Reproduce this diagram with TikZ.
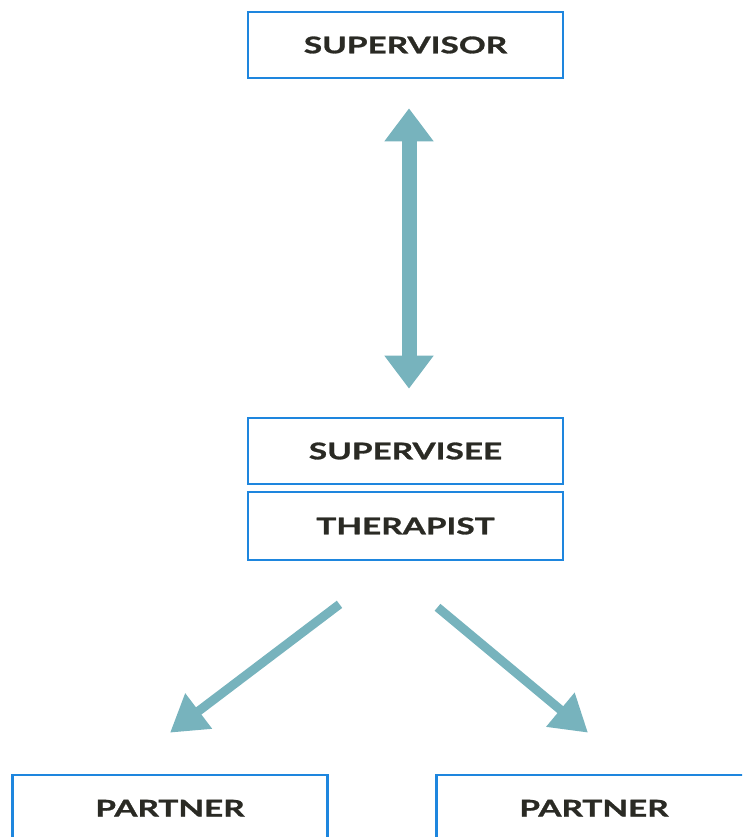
\documentclass[tikz,border=0pt]{standalone}
\usepackage{fontspec}
\setmainfont{Lato}[UprightFont=* Bold, FakeStretch=1.45, FakeBold=1.2]
\usetikzlibrary{arrows.meta}
\definecolor{boxblue}{HTML}{1E86DE}
\definecolor{linkteal}{HTML}{77B3BD}
\definecolor{inkdark}{HTML}{2A2A24}
\tikzset{
  rolebox/.style={draw=boxblue, line width=2.6pt, fill=white, text=inkdark,
    minimum width=315pt, minimum height=66pt, font=\fontsize{23}{26}\selectfont},
  flowarrow/.style={draw=linkteal, line width=9pt,
    -{Triangle[width=42pt,length=36pt,fill=linkteal]}},
  bigarrow/.style={draw=linkteal, line width=15pt,
    {Triangle[width=47pt,length=33pt,fill=linkteal]}-{Triangle[width=47pt,length=33pt,fill=linkteal]}}
}
\begin{document}
\begin{tikzpicture}[x=1pt,y=-1pt]
        \useasboundingbox (0,0) rectangle (742,837);
        \clip (0,0) rectangle (742,837);
        % top
        \node[rolebox] (supervisor) at (405.5,45) {SUPERVISOR};
        % middle
        \node[rolebox] (supervisee) at (405.5,451) {SUPERVISEE};
        \node[rolebox, minimum height=68pt] (therapist) at (405.5,526) {THERAPIST};
        % bottom
        \node[rolebox, text height=17pt] (partnerL) at (170,808) {PARTNER};
        \node[rolebox, text height=17pt] (partnerR) at (594,808) {PARTNER};
        % arrows
        \draw[bigarrow] ([xshift=3.5pt,yshift=-29pt]supervisor.south)
            -- ([xshift=3.5pt,yshift=28pt]supervisee.north);
        \coordinate (startL) at ([xshift=-66pt,yshift=-43pt]therapist.south);
        \coordinate (startR) at ([xshift=32pt,yshift=-46pt]therapist.south);
        \draw[flowarrow] (startL) -- ([yshift=41pt]partnerL.north);
        \draw[flowarrow] (startR) -- ([xshift=-6pt,yshift=41pt]partnerR.north);
\end{tikzpicture}
\end{document}
